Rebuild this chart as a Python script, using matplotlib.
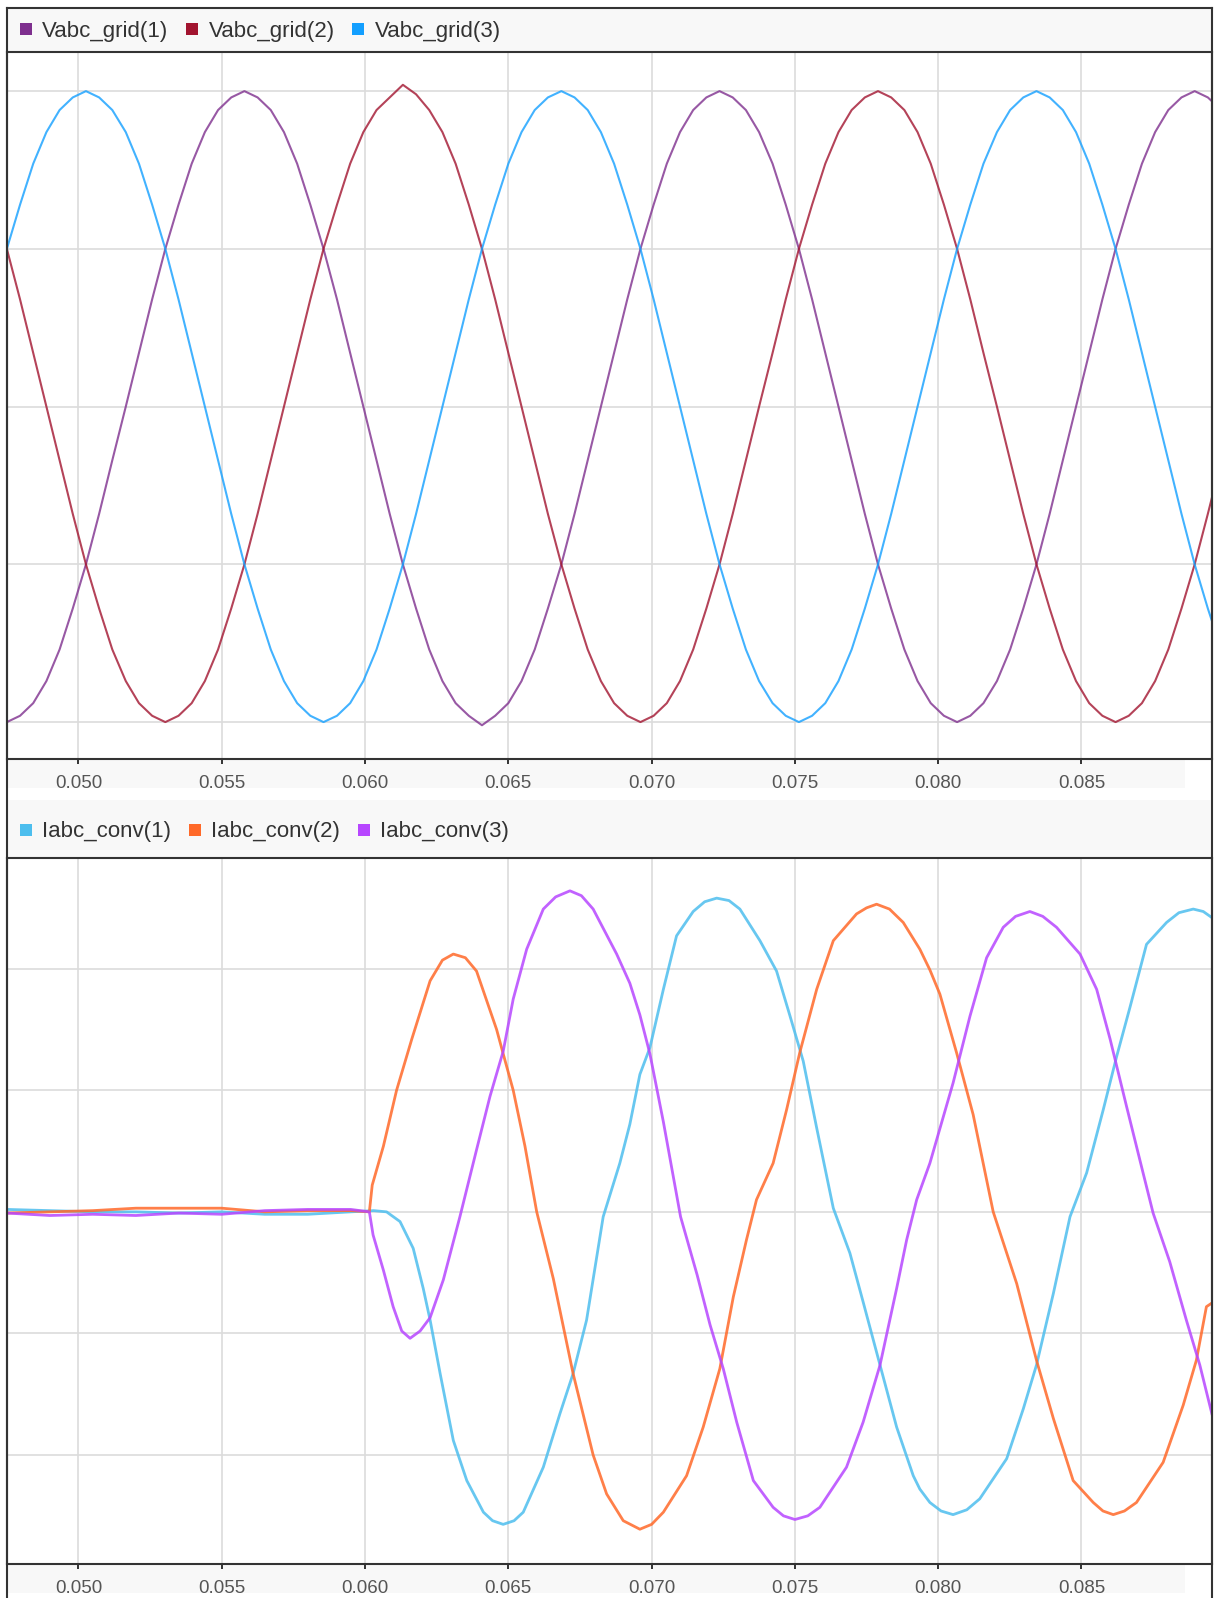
import numpy as np
import matplotlib
matplotlib.use("Agg")
import matplotlib.pyplot as plt
from matplotlib.lines import Line2D
from matplotlib.patches import Rectangle

plt.rcParams['font.family'] = ['Liberation Sans', 'DejaVu Sans']

# ---- top scope: grid voltages (per unit), time in ms ----
t_grid = [47.50, 47.96, 48.42, 48.88, 49.34, 49.80, 50.26, 50.72, 51.18, 51.65,
          52.11, 52.57, 53.03, 53.49, 53.95, 54.41, 54.87, 55.33, 55.79, 56.25,
          56.71, 57.17, 57.63, 58.09, 58.55, 59.02, 59.48, 59.94, 60.40, 60.86,
          61.32, 61.78, 62.24, 62.70, 63.16, 63.62, 64.08, 64.54, 65.00, 65.46,
          65.92, 66.38, 66.85, 67.31, 67.77, 68.23, 68.69, 69.15, 69.61, 70.07,
          70.53, 70.99, 71.45, 71.91, 72.37, 72.83, 73.29, 73.75, 74.22, 74.68,
          75.14, 75.60, 76.06, 76.52, 76.98, 77.44, 77.90, 78.36, 78.82, 79.28,
          79.74, 80.20, 80.66, 81.12, 81.58, 82.05, 82.51, 82.97, 83.43, 83.89,
          84.35, 84.81, 85.27, 85.73, 86.19, 86.65, 87.11, 87.57, 88.03, 88.49,
          88.95, 89.41, 89.88]
vgrid_1 = [-1.0, -0.98, -0.94, -0.87, -0.77, -0.64, -0.5, -0.34, -0.17, 0.0,
           0.17, 0.34, 0.5, 0.64, 0.77, 0.87, 0.94, 0.98, 1.0, 0.98,
           0.94, 0.87, 0.77, 0.64, 0.5, 0.34, 0.17, 0.0, -0.17, -0.34,
           -0.5, -0.64, -0.77, -0.87, -0.94, -0.98, -1.01, -0.98, -0.94, -0.87,
           -0.77, -0.64, -0.5, -0.34, -0.17, 0.0, 0.17, 0.34, 0.5, 0.64,
           0.77, 0.87, 0.94, 0.98, 1.0, 0.98, 0.94, 0.87, 0.77, 0.64,
           0.5, 0.34, 0.17, 0.0, -0.17, -0.34, -0.5, -0.64, -0.77, -0.87,
           -0.94, -0.98, -1.0, -0.98, -0.94, -0.87, -0.77, -0.64, -0.5, -0.34,
           -0.17, 0.0, 0.17, 0.34, 0.5, 0.64, 0.77, 0.87, 0.94, 0.98,
           1.0, 0.98, 0.94]
vgrid_2 = [0.5, 0.34, 0.17, 0.0, -0.17, -0.34, -0.5, -0.64, -0.77, -0.87,
           -0.94, -0.98, -1.0, -0.98, -0.94, -0.87, -0.77, -0.64, -0.5, -0.34,
           -0.17, 0.0, 0.17, 0.34, 0.5, 0.64, 0.77, 0.87, 0.94, 0.98,
           1.02, 0.99, 0.94, 0.87, 0.77, 0.64, 0.5, 0.34, 0.17, 0.0,
           -0.17, -0.34, -0.5, -0.64, -0.77, -0.87, -0.94, -0.98, -1.0, -0.98,
           -0.94, -0.87, -0.77, -0.64, -0.5, -0.34, -0.17, 0.0, 0.17, 0.34,
           0.5, 0.64, 0.77, 0.87, 0.94, 0.98, 1.0, 0.98, 0.94, 0.87,
           0.77, 0.64, 0.5, 0.34, 0.17, 0.0, -0.17, -0.34, -0.5, -0.64,
           -0.77, -0.87, -0.94, -0.98, -1.0, -0.98, -0.94, -0.87, -0.77, -0.64,
           -0.5, -0.34, -0.17]
vgrid_3 = [0.5, 0.64, 0.77, 0.87, 0.94, 0.98, 1.0, 0.98, 0.94, 0.87,
           0.77, 0.64, 0.5, 0.34, 0.17, 0.0, -0.17, -0.34, -0.5, -0.64,
           -0.77, -0.87, -0.94, -0.98, -1.0, -0.98, -0.94, -0.87, -0.77, -0.64,
           -0.5, -0.34, -0.17, 0.0, 0.17, 0.34, 0.5, 0.64, 0.77, 0.87,
           0.94, 0.98, 1.0, 0.98, 0.94, 0.87, 0.77, 0.64, 0.5, 0.34,
           0.17, 0.0, -0.17, -0.34, -0.5, -0.64, -0.77, -0.87, -0.94, -0.98,
           -1.0, -0.98, -0.94, -0.87, -0.77, -0.64, -0.5, -0.34, -0.17, 0.0,
           0.17, 0.34, 0.5, 0.64, 0.77, 0.87, 0.94, 0.98, 1.0, 0.98,
           0.94, 0.87, 0.77, 0.64, 0.5, 0.34, 0.17, 0.0, -0.17, -0.34,
           -0.5, -0.64, -0.77]

# ---- bottom scope: converter currents, time in ms ----
t_conv1 = [47.5, 49.0, 50.5, 52.0, 53.5, 55.0, 56.5, 58.0, 59.5, 60.3, 60.75,
           61.22, 61.68, 62.03, 62.27, 62.62, 63.08, 63.55, 64.13, 64.45, 64.82,
           65.20, 65.52, 66.22, 66.80, 67.26, 67.73, 68.31, 68.89, 69.24, 69.59,
           69.94, 70.41, 70.87, 71.45, 71.85, 72.27, 72.70, 73.08, 73.78, 74.36,
           74.83, 75.29, 75.76, 76.34, 76.92, 77.38, 77.97, 78.55, 79.13, 79.36,
           79.71, 80.10, 80.52, 81.00, 81.45, 82.39, 82.97, 83.43, 84.02, 84.60,
           85.18, 85.76, 86.23, 86.69, 87.27, 87.97, 88.40, 88.90, 89.25, 89.55]
iconv_1 = [0.02, 0.01, 0.0, 0.0, -0.01, 0.0, -0.02, -0.02, 0.0, 0.01, 0.0,
           -0.08, -0.30, -0.63, -0.89, -1.33, -1.88, -2.21, -2.47, -2.54, -2.57,
           -2.54, -2.47, -2.10, -1.66, -1.33, -0.89, -0.04, 0.40, 0.72, 1.13,
           1.35, 1.83, 2.27, 2.47, 2.55, 2.58, 2.56, 2.49, 2.23, 1.98,
           1.61, 1.24, 0.69, 0.03, -0.34, -0.74, -1.26, -1.77, -2.17, -2.28,
           -2.39, -2.46, -2.49, -2.45, -2.36, -2.03, -1.62, -1.26, -0.67, -0.04,
           0.32, 0.84, 1.28, 1.68, 2.20, 2.38, 2.46, 2.49, 2.47, 2.42]

t_conv2 = [47.5, 49.0, 50.5, 52.0, 53.5, 55.0, 56.5, 58.0, 59.5, 60.15,
           60.25, 60.64, 61.10, 61.63, 62.27, 62.70, 63.08, 63.50, 63.89, 64.59,
           64.82, 65.17, 65.58, 65.99, 66.57, 67.26, 67.96, 68.43, 69.01, 69.59,
           70.00, 70.41, 71.22, 71.80, 72.38, 72.85, 73.31, 73.66, 74.24, 74.71,
           75.17, 75.76, 76.34, 77.15, 77.50, 77.85, 78.30, 78.78, 79.36, 79.71,
           80.06, 80.64, 81.22, 81.92, 82.74, 83.43, 84.02, 84.71, 85.41, 85.75,
           86.11, 86.50, 86.92, 87.85, 88.55, 89.01, 89.36, 89.55]
iconv_2 = [-0.01, 0.0, 0.01, 0.03, 0.03, 0.03, 0.0, 0.01, 0.01, 0.0,
           0.22, 0.54, 1.0, 1.42, 1.90, 2.07, 2.12, 2.09, 1.98, 1.50,
           1.30, 1.0, 0.54, 0.0, -0.55, -1.33, -2.0, -2.32, -2.54, -2.61,
           -2.57, -2.47, -2.17, -1.77, -1.29, -0.70, -0.23, 0.10, 0.40, 0.84,
           1.31, 1.83, 2.23, 2.45, 2.50, 2.53, 2.49, 2.38, 2.16, 1.99,
           1.79, 1.31, 0.80, 0.0, -0.59, -1.22, -1.70, -2.21, -2.39, -2.46,
           -2.49, -2.46, -2.39, -2.06, -1.59, -1.22, -0.78, -0.75]

t_conv3 = [47.5, 49.0, 50.5, 52.0, 53.5, 55.0, 56.5, 58.0, 59.5, 60.15,
           60.28, 60.64, 60.98, 61.28, 61.57, 61.92, 62.27, 62.73, 63.31, 63.89,
           64.36, 64.82, 65.17, 65.64, 66.22, 66.65, 67.15, 67.55, 67.96, 68.78,
           69.24, 69.59, 69.94, 70.41, 71.01, 71.59, 72.04, 72.50, 72.97, 73.55,
           74.24, 74.60, 75.00, 75.45, 75.87, 76.80, 77.38, 77.97, 78.55, 78.90,
           79.25, 79.71, 80.52, 81.11, 81.69, 82.27, 82.70, 83.20, 83.65, 84.13,
           84.95, 85.53, 86.00, 86.57, 87.15, 87.50, 88.08, 88.66, 89.13, 89.55]
iconv_3 = [-0.01, -0.03, -0.02, -0.03, -0.01, -0.02, 0.01, 0.02, 0.02, 0.0,
           -0.19, -0.48, -0.78, -0.98, -1.04, -0.98, -0.87, -0.56, -0.04, 0.51,
           0.95, 1.32, 1.75, 2.16, 2.49, 2.59, 2.64, 2.60, 2.49, 2.12,
           1.88, 1.62, 1.30, 0.74, -0.04, -0.52, -0.93, -1.29, -1.73, -2.21,
           -2.43, -2.50, -2.53, -2.50, -2.43, -2.10, -1.73, -1.26, -0.63, -0.23,
           0.10, 0.40, 1.06, 1.61, 2.09, 2.34, 2.43, 2.47, 2.43, 2.34,
           2.12, 1.83, 1.42, 0.87, 0.32, -0.01, -0.41, -0.89, -1.26, -1.66]

grid_labels = ['Vabc_grid(1)', 'Vabc_grid(2)', 'Vabc_grid(3)']
grid_colors = ['#7E2F8E', '#A2142F', '#139FFF']
conv_labels = ['Iabc_conv(1)', 'Iabc_conv(2)', 'Iabc_conv(3)']
conv_colors = ['#4DBEEE', '#FF6929', '#B746FF']

xticks = [0.050, 0.055, 0.060, 0.065, 0.070, 0.075, 0.080, 0.085]
xlim = (0.047505, 0.089555)

W, H = 1217, 1598
DARK = '#333333'


def fx(px):
    return px / W


def fy(py):
    return 1 - py / H


fig = plt.figure(figsize=(W / 100, H / 100), dpi=100)
fig.patch.set_facecolor('white')


def band(x0, x1, y0, y1):
    fig.patches.append(Rectangle((fx(x0), fy(y1)), fx(x1) - fx(x0), (y1 - y0) / H,
                                 transform=fig.transFigure, facecolor='#f8f8f8',
                                 edgecolor='none', zorder=-5))


def scope(top, bottom, ylim, yticks, series, labels, colors, lw, alpha, leg_y):
    ax = fig.add_axes([fx(7), fy(bottom), fx(1212) - fx(7), (bottom - top) / H])
    ax.patch.set_alpha(0)
    for (t, v), c in zip(series, colors):
        ax.plot(np.array(t) / 1000, v, color=c, lw=lw, alpha=alpha,
                solid_joinstyle='round')
    ax.set_xlim(*xlim)
    ax.set_ylim(*ylim)
    ax.set_xticks(xticks)
    ax.set_xticklabels(['%.3f' % x for x in xticks])
    ax.set_yticks(yticks)
    ax.grid(True, color='#dcdcdc', lw=1.2)
    ax.set_axisbelow(True)
    ax.tick_params(axis='y', length=0, labelleft=False)
    ax.tick_params(axis='x', direction='out', length=3.5, width=1.4, color=DARK,
                   labelsize=13.5, labelcolor='#555555', pad=8)
    for s in ax.spines.values():
        s.set_color(DARK)
        s.set_linewidth(1.5)
    handles = [Line2D([], [], marker='s', ls='', ms=9.3, color=c, markeredgewidth=0)
               for c in colors]
    fig.legend(handles, labels, ncol=3, loc='center left',
               bbox_to_anchor=(fx(19), fy(leg_y)), frameon=False, fontsize=16,
               handlelength=0.6, handletextpad=0.45, columnspacing=0.75,
               borderpad=0, borderaxespad=0, labelcolor=DARK)
    return ax


# background bands (legend strips and tick strips)
band(7, 1212, 8, 52)
band(7, 1185, 759, 788)
band(7, 1212, 800, 858)
band(7, 1185, 1564, 1593)

ax1 = scope(52, 759, (-1.117, 1.124), [-1, -0.5, 0, 0.5, 1],
            [(t_grid, vgrid_1), (t_grid, vgrid_2), (t_grid, vgrid_3)],
            grid_labels, grid_colors, 1.5, 0.8, 31)

ax2 = scope(858, 1564, (-2.896, 2.91), [-2, -1, 0, 1, 2],
            [(t_conv1, iconv_1), (t_conv2, iconv_2), (t_conv3, iconv_3)],
            conv_labels, conv_colors, 2.0, 0.85, 832)

# outer frame of the scope window
for xs, ys in [([7, 7], [8, H]), ([1212, 1212], [8, H]), ([7, 1212], [8, 8])]:
    fig.add_artist(Line2D([fx(x) for x in xs], [fy(y) for y in ys], color=DARK,
                          lw=1.5, transform=fig.transFigure))

fig.savefig('out.png', dpi=100)
